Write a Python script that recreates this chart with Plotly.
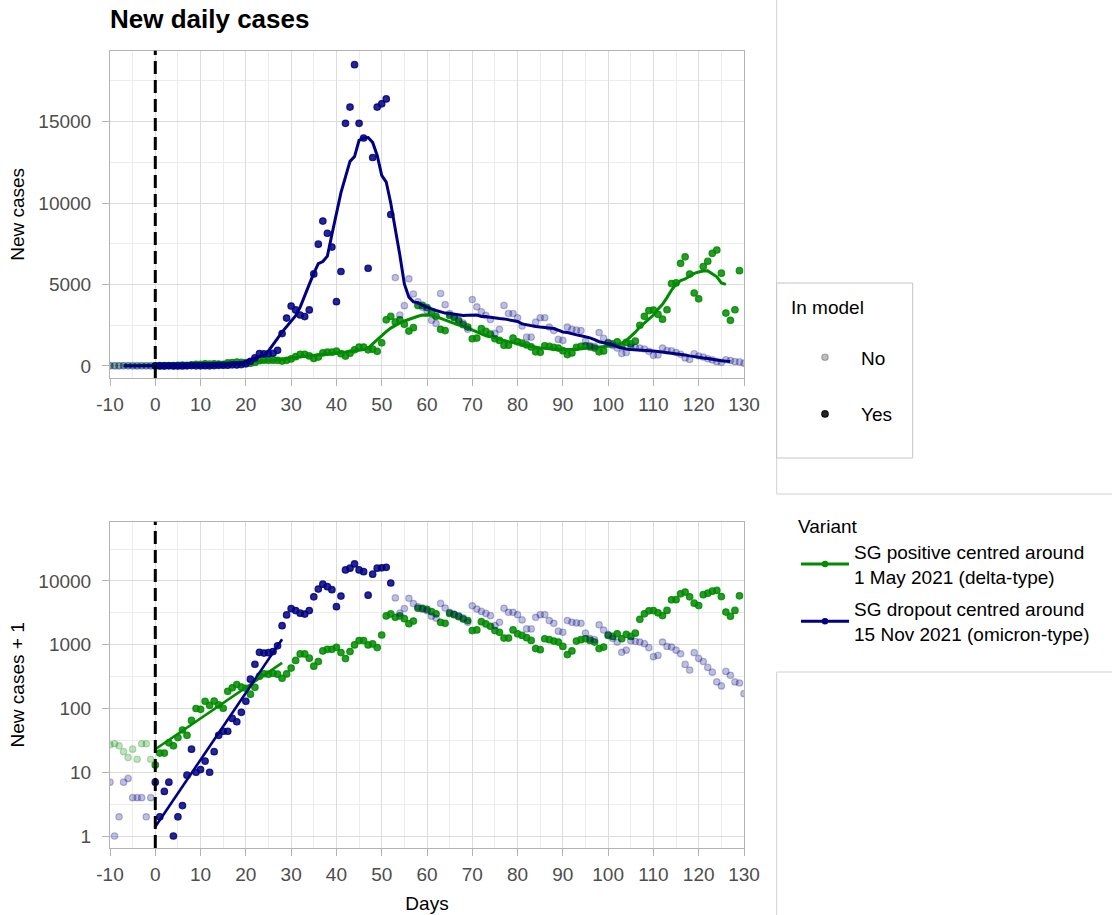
import plotly.graph_objects as go
import pandas as pd

# ---------------- data ----------------
days_blue = list(range(-10, 131))
blue_cases = [
    6, 0, 1, 6, 7, 3, 3, 3, 1, 3,                      # -10..-1
    6, 1, 4, 6, 0, 1, 2, 8, 22, 9,                      # 0..9
    10, 14, 9, 20, 37, 43, 43, 69, 61, 86,              # 10..19
    129, 287, 493, 760, 740, 750, 780, 960, 1990, 2940,  # 20..29
    3680, 3440, 3130, 3030, 3440, 5650, 7480, 8900, 8150, 7300,  # 30..39
    3950, 5800, 14900, 15900, 18500, 14900, 14000, 6000, 12800, 15900,  # 40..49
    16100, 16400, 9300, 5430, 3130, 3700, 5350, 4420, 3950, 3600,  # 50..59
    3400, 2800, 2600, 4450, 3760, 3220, 3030, 2860, 2630, 2250,  # 60..69
    4080, 3630, 3330, 3100, 2860, 2000, 2250, 3720, 3220, 3220,  # 70..79
    2960, 2450, 1770, 1770, 2690, 2960, 2960, 2390, 2170, 1630,  # 80..89
    1570, 2390, 2250, 2200, 2170, 1520, 1250, 1200, 2050, 1700,  # 90..99
    1450, 1250, 1100, 760, 820, 1150, 1130, 1100, 1040, 900,     # 100..109
    650, 680, 1100, 940, 920, 820, 720, 490, 400, 750,           # 110..119
    610, 545, 440, 370, 260, 225, 380, 330, 260, 250,            # 120..129
    170,                                                          # 130
]
days_green = list(range(-10, 130))
green_cases = [
    26, 27, 25, 20, 16, 22, 15, 27, 27, 15,              # -10..-1
    12, 19, 19, 28, 25, 34, 45, 37, 64, 99,              # 0..9
    96, 129, 111, 130, 113, 100, 185, 210, 237, 216,     # 10..19
    206, 167, 214, 320, 350, 345, 355, 345, 297, 348,    # 20..29
    429, 567, 716, 716, 615, 460, 543, 798, 848, 848,    # 30..39
    910, 752, 605, 780, 991, 1160, 1160, 991, 1028, 901,  # 40..49
    1420, 2830, 3040, 2700, 2830, 2560, 2140, 2350, 3720, 3720,  # 50..59
    3590, 3300, 3050, 2250, 2170, 3100, 2960, 2760, 2530, 2390,  # 60..69
    1670, 1710, 2300, 2120, 1950, 1670, 1570, 1270, 1270, 1710,  # 70..79
    1480, 1400, 1290, 1170, 870, 836, 1240, 1200, 1140, 1100,    # 80..89
    940, 700, 800, 1140, 1200, 1240, 1170, 1100, 870, 920,       # 90..99
    1400, 1350, 1480, 1240, 1450, 1350, 1520, 2500, 3050, 3400,  # 100..109
    3430, 3170, 2870, 3450, 5060, 5100, 6300, 6700, 5640, 4480,  # 110..119
    4120, 6100, 6430, 6920, 7120, 5700, 3250, 2800, 3450, 5850,  # 120..129
]
blue_model_days = (0, 52)
green_model_days = (0, 129)
smooth_window = 7

fit_days = [0, 28]
blue_fit_plus1 = [1.4, 1220]
green_fit_plus1 = [23, 520]

intervention_day = [0]
x_ticks = list(range(-10, 131, 10))
x_tick_text = [str(t) for t in x_ticks]
top_y_ticks = [0, 5000, 10000, 15000]
top_y_text = [str(t) for t in top_y_ticks]
log_y_ticks = [1, 10, 100, 1000, 10000]
log_y_text = [str(t) for t in log_y_ticks]
log_y_minor = [10 ** 0.5, 10 ** 1.5, 10 ** 2.5, 10 ** 3.5, 10 ** 4.5]

variants = [
    ("SG positive centred around<br>1 May 2021 (delta-type)", days_green, green_cases, green_model_days, (0, 139, 0)),
    ("SG dropout centred around<br>15 Nov 2021 (omicron-type)", days_blue, blue_cases, blue_model_days, (0, 0, 128)),
]

# ---------------- figure ----------------
W, H = 1112, 915
FONT = "Liberation Sans, Arial, Helvetica, sans-serif"


def rgba(c, a):
    return f"rgba({c[0]},{c[1]},{c[2]},{a})"


fig = go.Figure()

for name, d, v, (m0, m1), col in variants:
    df = pd.DataFrame({"day": d, "cases": v})
    df["in_model"] = (df["day"] >= m0) & (df["day"] <= m1)
    df["smooth"] = df["cases"].rolling(smooth_window, center=True).mean()
    for in_model, alpha in [(False, 0.25), (True, 0.85)]:
        sub = df[df["in_model"] == in_model]
        mk = dict(size=6.5, color=rgba(col, alpha), line=dict(color=rgba(col, alpha), width=1.2))
        fig.add_trace(go.Scatter(x=sub["day"], y=sub["cases"], mode="markers", marker=mk,
                                 showlegend=False, xaxis="x", yaxis="y", hoverinfo="skip"))
        fig.add_trace(go.Scatter(x=sub["day"], y=sub["cases"] + 1, mode="markers", marker=mk,
                                 showlegend=False, xaxis="x2", yaxis="y2", hoverinfo="skip"))
    sm = df.dropna(subset=["smooth"])
    fig.add_trace(go.Scatter(x=sm["day"], y=sm["smooth"], mode="lines",
                             line=dict(color=rgba(col, 1), width=3),
                             showlegend=False, xaxis="x", yaxis="y", hoverinfo="skip"))

for fit, col in [(green_fit_plus1, (0, 139, 0)), (blue_fit_plus1, (0, 0, 128))]:
    fig.add_trace(go.Scatter(x=fit_days, y=fit, mode="lines",
                             line=dict(color=rgba(col, 1), width=2.6),
                             showlegend=False, xaxis="x2", yaxis="y2", hoverinfo="skip"))

# legend-only entries
for nm, alpha, grp in [("No", 0.25, "no"), ("Yes", 0.85, "yes")]:
    fig.add_trace(go.Scatter(x=[None], y=[None], mode="markers", name=nm,
                             marker=dict(size=6.5, color=rgba((0, 0, 0), alpha),
                                         line=dict(color=rgba((0, 0, 0), alpha), width=1.2)),
                             legend="legend", legendgroup=grp, xaxis="x", yaxis="y"))
for name, d, v, m, col in variants:
    fig.add_trace(go.Scatter(x=[None], y=[None], mode="lines+markers", name=name,
                             line=dict(color=rgba(col, 1), width=3),
                             marker=dict(size=6.5, color=rgba(col, 1)),
                             legend="legend2", legendgroup=name, xaxis="x", yaxis="y"))

axis_common = dict(
    showline=True, linecolor="#b3b3b3", linewidth=1, mirror=True,
    ticks="outside", ticklen=7, tickcolor="#b3b3b3", tickwidth=1,
    tickfont=dict(size=19, color="#4d4d4d", family=FONT),
    showgrid=True, gridcolor="#dcdcdc", gridwidth=1, zeroline=False,
    automargin=False,
)
xdom = [110 / W, 744 / W]
top_dom = [1 - 378 / H, 1 - 50.7 / H]
bot_dom = [1 - 848 / H, 1 - 521.7 / H]
title_font = dict(size=19, color="black", family=FONT)

fig.update_layout(
    template="none",
    width=W, height=H,
    margin=dict(l=0, r=0, t=0, b=0, autoexpand=False),
    paper_bgcolor="white", plot_bgcolor="white",
    font=dict(family=FONT, size=19, color="black"),
    title=dict(text="<b>New daily cases</b>", x=110 / W, xanchor="left", xref="paper",
               y=1 - 19 / H, yanchor="middle", yref="paper",
               font=dict(size=26, color="black", family=FONT)),
    xaxis=dict(domain=xdom, anchor="y", range=[-10, 130], tickmode="array", tickvals=x_ticks,
               ticktext=x_tick_text, ticklabelstandoff=2,
               minor=dict(dtick=5, tick0=0, showgrid=True, gridcolor="#ececec", gridwidth=1),
               **axis_common),
    yaxis=dict(domain=top_dom, anchor="x", range=[-740, 19360], tickmode="array", tickvals=top_y_ticks,
               ticktext=top_y_text, ticklabelstandoff=7,
               minor=dict(dtick=2500, tick0=0, showgrid=True, gridcolor="#ececec", gridwidth=1),
               title=dict(text="New cases", font=title_font, standoff=8),
               **axis_common),
    xaxis2=dict(domain=xdom, anchor="y2", range=[-10, 130], tickmode="array", tickvals=x_ticks,
                ticktext=x_tick_text, ticklabelstandoff=2,
                minor=dict(dtick=5, tick0=0, showgrid=True, gridcolor="#ececec", gridwidth=1),
                title=dict(text="Days", font=title_font, standoff=12),
                **axis_common),
    yaxis2=dict(domain=bot_dom, anchor="x2", type="log", range=[-0.188, 4.93],
                tickmode="array", tickvals=log_y_ticks, ticktext=log_y_text, ticklabelstandoff=7,
                minor=dict(tickmode="array", tickvals=log_y_minor, showgrid=True, gridcolor="#ececec", gridwidth=1),
                title=dict(text="New cases + 1", font=title_font, standoff=8),
                **axis_common),
    legend=dict(title=dict(text="In model<br>", font=dict(size=19, color="black", family=FONT)),
                font=dict(size=19, color="black", family=FONT),
                x=789 / W, xanchor="left", y=1 - 289 / H, yanchor="top",
                bgcolor="rgba(0,0,0,0)", borderwidth=0, tracegroupgap=29, itemwidth=62),
    legend2=dict(title=dict(text="Variant", font=dict(size=19, color="black", family=FONT)),
                 font=dict(size=19, color="black", family=FONT),
                 x=796 / W, xanchor="left", y=1 - 508 / H, yanchor="top",
                 bgcolor="rgba(0,0,0,0)", borderwidth=0, tracegroupgap=5, itemwidth=48),
)

# dashed intervention line in both panels
for xr, yr in [("x", "y domain"), ("x2", "y2 domain")]:
    fig.add_shape(type="line", xref=xr, yref=yr, x0=intervention_day[0], x1=intervention_day[0], y0=0, y1=1,
                  line=dict(color="black", width=3, dash="13px,6px"), layer="above")

# legend panel frames
frame = "#d0d0d0"
fig.add_shape(type="rect", xref="paper", yref="paper", x0=776.7 / W, x1=1.05, y0=1 - 494 / H, y1=1.05,
              line=dict(color=frame, width=1), fillcolor="rgba(0,0,0,0)", layer="below")
fig.add_shape(type="rect", xref="paper", yref="paper", x0=776.7 / W, x1=912.7 / W, y0=1 - 458 / H, y1=1 - 283 / H,
              line=dict(color="#c4c4c4", width=1), fillcolor="white", layer="below")
fig.add_shape(type="rect", xref="paper", yref="paper", x0=776.7 / W, x1=1.05, y0=-0.05, y1=1 - 672 / H,
              line=dict(color=frame, width=1), fillcolor="rgba(0,0,0,0)", layer="below")

fig.write_html("out.html")
